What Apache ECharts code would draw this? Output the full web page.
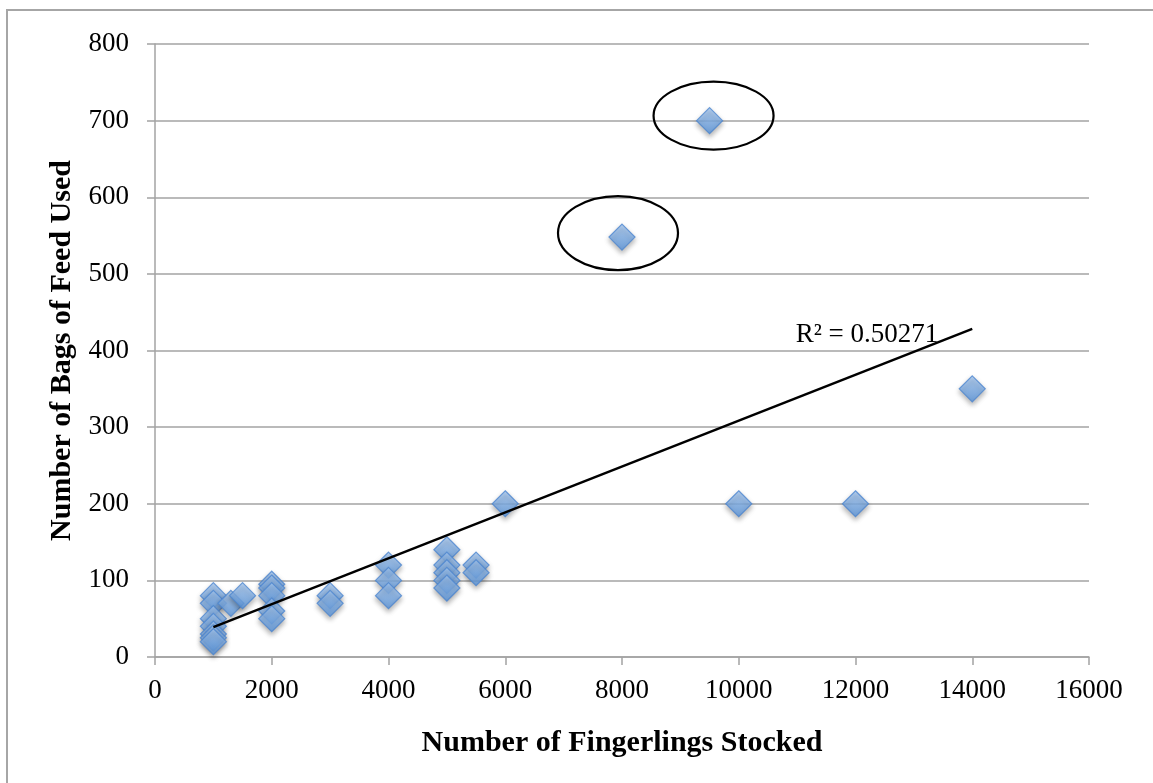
<!DOCTYPE html>
<html>
<head>
<meta charset="utf-8">
<title>Number of Bags of Feed Used vs Number of Fingerlings Stocked</title>
<script src="https://cdn.jsdelivr.net/npm/echarts@6/dist/echarts.min.js"></script>
<style>
  html, body { margin: 0; padding: 0; background: #ffffff; }
  #chart { width: 1153px; height: 783px; }
</style>
</head>
<body>
<div id="chart"></div>
<script>
// Fingerlings stocked per pond and the bags of feed used
const fingerlings = [1000, 1000, 1000, 1000, 1000, 1000, 1000, 1300, 1500,
  2000, 2000, 2000, 2000, 2000, 3000, 3000, 4000, 4000, 4000,
  5000, 5000, 5000, 5000, 5000, 5500, 5500, 6000, 8000, 9500, 10000, 12000, 14000];
const feedBags = [80, 70, 50, 40, 30, 25, 20, 70, 80,
  95, 90, 80, 60, 50, 80, 70, 120, 100, 80,
  140, 120, 110, 100, 90, 120, 110, 200, 548, 700, 200, 200, 350];

// Axis tick values
const xTicks = [0, 2000, 4000, 6000, 8000, 10000, 12000, 14000, 16000];
const yTicks = [0, 100, 200, 300, 400, 500, 600, 700, 800];

// Points circled as outliers (indices into the arrays above)
const circledPoints = [28, 27];

const rSquaredText = 'R² = 0.50271';

const points = fingerlings.map((x, i) => [x, feedBags[i]]);

// Least-squares linear trend over the data
const n = points.length;
const meanX = fingerlings.reduce((a, b) => a + b, 0) / n;
const meanY = feedBags.reduce((a, b) => a + b, 0) / n;
let sxy = 0, sxx = 0;
for (let i = 0; i < n; i++) {
  sxy += (fingerlings[i] - meanX) * (feedBags[i] - meanY);
  sxx += (fingerlings[i] - meanX) * (fingerlings[i] - meanX);
}
const slope = sxy / sxx;
const intercept = meanY - slope * meanX;
const xMin = Math.min(...fingerlings);
const xMax = Math.max(...fingerlings);
const trend = [[xMin, intercept + slope * xMin], [xMax, intercept + slope * xMax]];

const serif = '"Liberation Serif", "DejaVu Serif", serif';
const gridGray = '#a3a3a3';

const chart = echarts.init(document.getElementById('chart'), null, { renderer: 'canvas' });

const ellipseStyle = [
  { dx: 4, dy: -5, rx: 60, ry: 34 },
  { dx: -4, dy: -4, rx: 60, ry: 37 }
];

chart.setOption({
  backgroundColor: '#ffffff',
  animation: false,
  graphic: [{
    type: 'rect',
    shape: { x: 7, y: 10, width: 1300, height: 900 },
    style: { fill: 'none', stroke: '#a6a6a6', lineWidth: 2 },
    silent: true,
    z: -1
  }],
  grid: { left: 155, right: 64, top: 44, bottom: 126, containLabel: false },
  xAxis: {
    type: 'value',
    min: xTicks[0],
    max: xTicks[xTicks.length - 1],
    interval: xTicks[1] - xTicks[0],
    name: 'Number of Fingerlings Stocked',
    nameLocation: 'middle',
    nameGap: 71,
    nameTextStyle: { fontFamily: serif, fontWeight: 'bold', fontSize: 30, color: '#000' },
    axisLine: { show: true, lineStyle: { color: gridGray, width: 1.5 } },
    axisTick: { show: true, inside: false, length: 8, lineStyle: { color: gridGray, width: 1.5 } },
    axisLabel: {
      fontFamily: serif, fontSize: 27, color: '#000', margin: 20,
      formatter: v => String(v)
    },
    splitLine: { show: false }
  },
  yAxis: {
    type: 'value',
    min: yTicks[0],
    max: yTicks[yTicks.length - 1],
    interval: yTicks[1] - yTicks[0],
    name: 'Number of Bags of Feed Used',
    nameLocation: 'middle',
    nameGap: 75,
    nameTextStyle: { fontFamily: serif, fontWeight: 'bold', fontSize: 30, color: '#000' },
    axisLine: { show: true, lineStyle: { color: gridGray, width: 1.5 } },
    axisTick: { show: true, inside: false, length: 8, lineStyle: { color: gridGray, width: 1.5 } },
    axisLabel: {
      fontFamily: serif, fontSize: 27, color: '#000', margin: 26,
      formatter: v => String(v)
    },
    splitLine: { show: true, lineStyle: { color: gridGray, width: 1.5 } }
  },
  series: [
    {
      type: 'scatter',
      data: points,
      symbol: 'diamond',
      symbolSize: 26,
      itemStyle: {
        color: new echarts.graphic.LinearGradient(0, 0, 0, 1, [
          { offset: 0, color: '#a9cbf4' },
          { offset: 1, color: '#5a97df' }
        ]),
        borderColor: '#4c86cf',
        borderWidth: 1.2,
        shadowBlur: 5,
        shadowColor: 'rgba(0,0,0,0.35)',
        shadowOffsetY: 3
      },
      z: 3
    },
    {
      type: 'line',
      data: trend,
      showSymbol: false,
      lineStyle: { color: '#000', width: 2.5 },
      z: 4
    },
    {
      // R² label at the end of the trend line
      type: 'custom',
      data: [trend[1]],
      renderItem: function (params, api) {
        const p = api.coord([api.value(0), api.value(1)]);
        return {
          type: 'text',
          x: p[0] - 34,
          y: p[1] + 6,
          style: {
            text: rSquaredText,
            font: '27px ' + serif,
            fill: '#000',
            align: 'right',
            verticalAlign: 'middle'
          }
        };
      },
      z: 5
    },
    {
      // Ellipses drawn round the outlying points
      type: 'custom',
      data: circledPoints.map(i => points[i]),
      renderItem: function (params, api) {
        const p = api.coord([api.value(0), api.value(1)]);
        const s = ellipseStyle[params.dataIndex];
        return {
          type: 'ellipse',
          shape: { cx: p[0] + s.dx, cy: p[1] + s.dy, rx: s.rx, ry: s.ry },
          style: { fill: 'none', stroke: '#000', lineWidth: 2.2 }
        };
      },
      z: 6
    }
  ]
});
</script>
</body>
</html>
